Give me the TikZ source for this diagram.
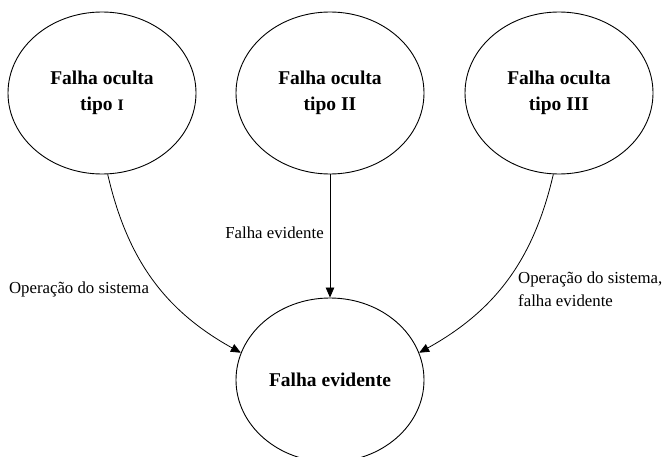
\documentclass[tikz,border=0pt]{standalone}
\usepackage{fontspec}
\setmainfont{Liberation Serif}
\usetikzlibrary{shapes.geometric,arrows.meta}

\tikzset{
  state/.style={draw, ellipse, line width=0.9pt, inner sep=0pt,
    minimum width=188pt, minimum height=162pt, align=center,
    font=\fontsize{19.5}{26}\selectfont\bfseries},
  edgelabel/.style={inner sep=0pt, font=\fontsize{16.8}{23}\selectfont},
  flow/.style={line width=0.8pt, -{Triangle[length=10pt,width=8.5pt]}}
}

\begin{document}
\begin{tikzpicture}[x=1pt, y=-1pt]
  \useasboundingbox (0,0) rectangle (663,457);
  \clip (0,0) rectangle (663,457);

  % hidden-failure states
  \node[state] (t1) at (102,93) {Falha oculta\\tipo {\fontsize{16}{26}\selectfont I}};
  \node[state] (t2) at (330,93) {Falha oculta\\tipo II};
  \node[state] (t3) at (559,93) {Falha oculta\\tipo III};

  % evident-failure state
  \node[state, minimum height=164pt] (ev) at (330,380) {Falha evidente};

  % transitions
  \draw[flow] (t1.-86) to[out=-77, in=151] (ev.163);
  \draw[flow] (t2.south) -- (ev.north);
  \draw[flow] (t3.-94) to[out=-103, in=29] (ev.17);

  % transition labels
  \node[edgelabel] (l1) at (79,289) {Operação do sistema};
  \node[edgelabel] (l2) at (274.5,233) {Falha evidente};
  \node[edgelabel, anchor=west, align=left] (l3) at (518,289.5)
    {Operação do sistema,\\falha evidente};
\end{tikzpicture}
\end{document}
